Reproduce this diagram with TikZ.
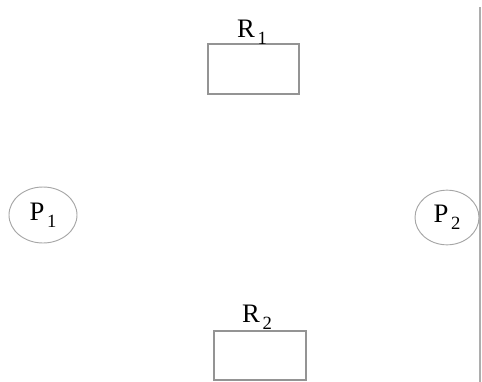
\documentclass[tikz,border=0pt]{standalone}
\usepackage{fontspec}
\setmainfont{Liberation Serif}
\usetikzlibrary{shapes.geometric}
\newcommand{\lbl}[2]{#1\kern2pt\raisebox{-5.5pt}{\fontsize{14}{14}\selectfont #2}}
\tikzset{
  resbox/.style={draw=black!42, line width=0.8pt},
  procnode/.style={ellipse, draw=black!35, line width=0.7pt, inner sep=0pt,
    font=\fontsize{20}{20}\selectfont},
  tag/.style={font=\fontsize{20}{20}\selectfont, inner sep=0pt, anchor=base},
  rule/.style={draw=black!32, line width=0.8pt}
}
\begin{document}
\begin{tikzpicture}[x=0.75pt, y=-0.75pt]
  \useasboundingbox (0,0) rectangle (482,382);
  % resources
  \node[resbox, minimum width=68.25pt, minimum height=37.5pt, inner sep=0pt] (r1) at (253.5,69) {};
  \node[tag] (r1t) at (252,37) {\lbl{R}{1}};
  \node[resbox, minimum width=69pt, minimum height=36.75pt, inner sep=0pt] (r2) at (260,355.5) {};
  \node[tag] (r2t) at (257,322) {\lbl{R}{2}};
  % processes
  \node[procnode, minimum width=51pt, minimum height=42pt] (p1) at (43,215) {\lbl{P}{1}};
  \node[procnode, minimum width=48pt, minimum height=41pt] (p2) at (447,217.5) {\lbl{P}{2}};
  % right rule
  \coordinate (ltop) at (480,7);
  \coordinate (lbot) at (480,382);
  \draw[rule] (ltop) -- (lbot);
\end{tikzpicture}
\end{document}
